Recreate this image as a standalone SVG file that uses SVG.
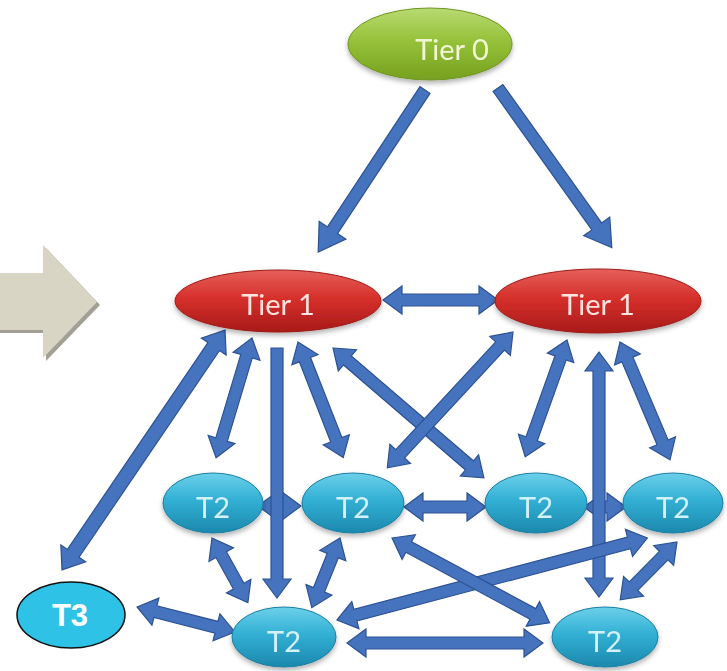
<svg xmlns="http://www.w3.org/2000/svg" width="727" height="671" viewBox="0 0 727 671">
<defs>
<linearGradient id="gGreen" x1="0" y1="0" x2="0" y2="1">
<stop offset="0" stop-color="#b9da72"/><stop offset="0.45" stop-color="#96c23a"/><stop offset="1" stop-color="#76a01f"/>
</linearGradient>
<linearGradient id="gRed" x1="0" y1="0" x2="0" y2="1">
<stop offset="0" stop-color="#e5605a"/><stop offset="0.45" stop-color="#d6302c"/><stop offset="1" stop-color="#a91a18"/>
</linearGradient>
<linearGradient id="gCyan" x1="0" y1="0" x2="0" y2="1">
<stop offset="0" stop-color="#6cd0ea"/><stop offset="0.45" stop-color="#32b0d4"/><stop offset="1" stop-color="#1c88ad"/>
</linearGradient>
<filter id="sh" x="-20%" y="-20%" width="140%" height="150%">
<feDropShadow dx="0" dy="3" stdDeviation="2.5" flood-color="#000" flood-opacity="0.3"/>
</filter>
</defs>
<style>
.arr{fill:#4673bd;stroke:#2d5294;stroke-width:1.2;stroke-linejoin:miter}
.lbl{font-family:Lato,"Open Sans","Liberation Sans",sans-serif;text-anchor:middle;dominant-baseline:central}
.t0{fill:url(#gGreen);stroke:#6f961f;stroke-width:1}
.t1{fill:url(#gRed);stroke:#9c1a16;stroke-width:1}
.t2{fill:url(#gCyan);stroke:#1b7fa3;stroke-width:1}
</style>
<rect width="727" height="671" fill="#ffffff"/>

<g id="big-arrow">
<polygon points="0,276 46,276 46,248 100,305 46,361 46,333 0,333" fill="#a29f94"/>
<polygon points="0,273 43,273 43,245 97,302 43,358 43,330 0,330" fill="#d9d5c4"/>
</g>

<g id="connectors">
<path class="arr" transform="translate(425,90) rotate(123.4)" d="M0,-6 L168,-6 L168,-16 L194,0 L168,16 L168,6 L0,6 Z"/>
<path class="arr" transform="translate(498,88) rotate(54.5)" d="M0,-6 L170,-6 L170,-16 L196,0 L170,16 L170,6 L0,6 Z"/>
<path class="arr" transform="translate(383,300)" d="M0,0 L19,-14 L19,-6 L96,-6 L96,-14 L115,0 L96,14 L96,6 L19,6 L19,14 Z"/>
<path class="arr" transform="translate(225,330) rotate(124.2)" d="M0,0 L20,-15 L20,-7 L270,-7 L270,-15 L290,0 L270,15 L270,7 L20,7 L20,15 Z"/>
<path class="arr" transform="translate(252,338) rotate(106.7)" d="M0,0 L19,-14 L19,-6 L106,-6 L106,-14 L125,0 L106,14 L106,6 L19,6 L19,14 Z"/>
<path class="arr" transform="translate(298,342) rotate(68.6)" d="M0,0 L19,-14 L19,-6 L105,-6 L105,-14 L124,0 L105,14 L105,6 L19,6 L19,14 Z"/>
<path class="arr" transform="translate(333,348) rotate(40.7)" d="M0,0 L19,-14 L19,-6 L180,-6 L180,-14 L199,0 L180,14 L180,6 L19,6 L19,14 Z"/>
<path class="arr" transform="translate(513,332) rotate(132.8)" d="M0,0 L19,-14 L19,-6 L166,-6 L166,-14 L185,0 L166,14 L166,6 L19,6 L19,14 Z"/>
<path class="arr" transform="translate(567,340) rotate(109.7)" d="M0,0 L19,-14 L19,-6 L105,-6 L105,-14 L124,0 L105,14 L105,6 L19,6 L19,14 Z"/>
<path class="arr" transform="translate(620,342) rotate(67)" d="M0,0 L19,-14 L19,-6 L109,-6 L109,-14 L128,0 L109,14 L109,6 L19,6 L19,14 Z"/>
<path class="arr" transform="translate(258,506)" d="M0,0 L19,-14 L19,-6 L24,-6 L24,-14 L43,0 L24,14 L24,6 L19,6 L19,14 Z"/>
<path class="arr" transform="translate(404,507)" d="M0,0 L19,-14 L19,-6 L63,-6 L63,-14 L82,0 L63,14 L63,6 L19,6 L19,14 Z"/>
<path class="arr" transform="translate(584,507)" d="M0,0 L19,-14 L19,-6 L23,-6 L23,-14 L42,0 L23,14 L23,6 L19,6 L19,14 Z"/>
<path class="arr" transform="translate(277,348) rotate(90)" d="M0,-6 L231,-6 L231,-14 L250,0 L231,14 L231,6 L0,6 Z"/>
<path class="arr" transform="translate(599,352) rotate(90)" d="M0,0 L19,-14 L19,-6 L226,-6 L226,-14 L245,0 L226,14 L226,6 L19,6 L19,14 Z"/>
<path class="arr" transform="translate(212,538) rotate(61)" d="M0,0 L19,-14 L19,-6 L55,-6 L55,-14 L74,0 L55,14 L55,6 L19,6 L19,14 Z"/>
<path class="arr" transform="translate(340,538) rotate(112.1)" d="M0,0 L19,-14 L19,-6 L56,-6 L56,-14 L75,0 L56,14 L56,6 L19,6 L19,14 Z"/>
<path class="arr" transform="translate(137,607) rotate(14.3)" d="M0,0 L19,-14 L19,-6 L82,-6 L82,-14 L101,0 L82,14 L82,6 L19,6 L19,14 Z"/>
<path class="arr" transform="translate(347,643)" d="M0,0 L19,-14 L19,-6 L177,-6 L177,-14 L196,0 L177,14 L177,6 L19,6 L19,14 Z"/>
<path class="arr" transform="translate(337,620) rotate(-14.8)" d="M0,0 L19,-14 L19,-6 L302,-6 L302,-14 L321,0 L302,14 L302,6 L19,6 L19,14 Z"/>
<path class="arr" transform="translate(392,538) rotate(28.3)" d="M0,0 L19,-14 L19,-6 L160,-6 L160,-14 L179,0 L160,14 L160,6 L19,6 L19,14 Z"/>
<path class="arr" transform="translate(677,542) rotate(134.5)" d="M0,0 L19,-14 L19,-6 L62,-6 L62,-14 L81,0 L62,14 L62,6 L19,6 L19,14 Z"/>
</g>

<g id="tier0" filter="url(#sh)">
<ellipse class="t0" cx="430" cy="44" rx="82" ry="36"/>
<text class="lbl" x="452" y="48" font-size="29" fill="#f1f7d6">Tier 0</text>
</g>
<g id="tier1-left" filter="url(#sh)">
<ellipse class="t1" cx="278" cy="301" rx="103" ry="31"/>
<text class="lbl" x="278" y="303" font-size="29" fill="#fde3df">Tier 1</text>
</g>
<g id="tier1-right" filter="url(#sh)">
<ellipse class="t1" cx="598" cy="301" rx="103" ry="32"/>
<text class="lbl" x="598" y="303" font-size="29" fill="#fde3df">Tier 1</text>
</g>
<g id="t2-a" filter="url(#sh)">
<ellipse class="t2" cx="213" cy="503" rx="50" ry="30"/>
<text class="lbl" x="213" y="506" font-size="29" fill="#d4f1fa">T2</text>
</g>
<g id="t2-b" filter="url(#sh)">
<ellipse class="t2" cx="353" cy="503" rx="51" ry="30"/>
<text class="lbl" x="353" y="506" font-size="29" fill="#d4f1fa">T2</text>
</g>
<g id="t2-c" filter="url(#sh)">
<ellipse class="t2" cx="536" cy="503" rx="51" ry="30"/>
<text class="lbl" x="536" y="506" font-size="29" fill="#d4f1fa">T2</text>
</g>
<g id="t2-d" filter="url(#sh)">
<ellipse class="t2" cx="673" cy="503" rx="50" ry="30"/>
<text class="lbl" x="673" y="506" font-size="29" fill="#d4f1fa">T2</text>
</g>
<g id="t2-bottom-left" filter="url(#sh)">
<ellipse class="t2" cx="284" cy="637" rx="52" ry="30"/>
<text class="lbl" x="284" y="640" font-size="29" fill="#d4f1fa">T2</text>
</g>
<g id="t2-bottom-right" filter="url(#sh)">
<ellipse class="t2" cx="605" cy="637" rx="53" ry="30"/>
<text class="lbl" x="605" y="640" font-size="29" fill="#d4f1fa">T2</text>
</g>
<g id="t3">
<ellipse cx="71" cy="615" rx="54" ry="33" fill="#2ec3e6" stroke="#111" stroke-width="1.5"/>
<text class="lbl" x="70" y="615" font-size="31" font-weight="bold" fill="#ffffff" style="font-family:'Liberation Sans',Arial,sans-serif">T3</text>
</g>
</svg>
